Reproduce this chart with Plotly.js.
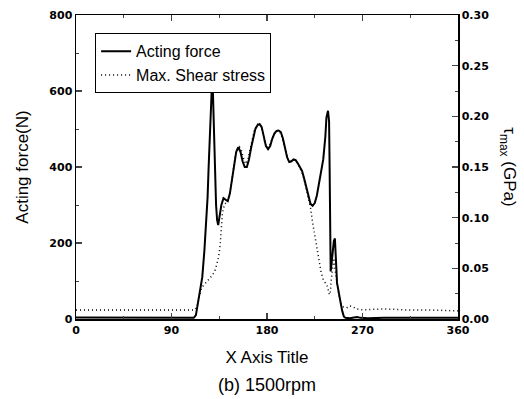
<!DOCTYPE html>
<html><head><meta charset="utf-8">
<script src="https://cdn.plot.ly/plotly-3.0.1.min.js"></script>
<style>html,body{margin:0;padding:0;background:#fff}#chart{width:524px;height:399px}</style>
</head><body><div id="chart"></div>
<script>
const forceAngle = [0,15,30,45,60,75,90,105,111,113,115,117,119,121,123,124,125,126,127,128,129,130,131,132,133,134,135,137,139,141,143,145,147,149,151,153,155,157,159,161,163,165,167,169,171,173,175,177,179,181,183,185,187,189,191,193,195,197,199,201,203,205,207,209,211,213,215,217,219,221,223,225,227,229,231,233,235,236,237.5,238.5,239,239.5,240,241,242,243,244,245,246,247,248,249.5,251,252.5,254,258,262,265,268,275,290,310,330,345,360];
const forceN = [4,4,3,4,3,3,4,3,3,10,40,80,110,180,270,320,400,480,570,610,600,480,380,300,260,247,265,300,318,315,310,330,370,410,440,452,440,415,400,400,420,450,480,500,510,513,505,480,455,447,455,475,488,495,496,492,475,450,425,413,415,420,418,410,400,390,370,345,320,303,298,305,325,355,385,420,480,530,548,520,400,250,125,150,180,205,212,160,95,80,60,41,20,6,3,2,4,5,3,2,3,3,3,3,3];
const stressAngle = [0,20,40,60,80,100,112,114,116,118,120,123,126,129,131,133,135,136,137,138,140,142,144,146,148,150,152,154,156,158,160,162,164,166,168,170,172,174,176,178,180,182,184,186,188,190,192,194,196,198,200,202,204,206,208,210,212,214,216,218,220,221,223,225,227,229,231,233,235,237,238.5,239.5,240.5,242,243,244,246,248,250,252,255,258,261,264,270,290,310,330,360];
const stressGPa = [0.009,0.009,0.009,0.009,0.009,0.009,0.009,0.012,0.022,0.030,0.033,0.036,0.040,0.044,0.048,0.055,0.065,0.075,0.095,0.105,0.113,0.115,0.118,0.130,0.145,0.160,0.168,0.170,0.166,0.158,0.153,0.157,0.167,0.178,0.186,0.191,0.193,0.191,0.184,0.174,0.169,0.170,0.176,0.181,0.185,0.186,0.185,0.180,0.172,0.163,0.157,0.155,0.157,0.157,0.155,0.151,0.147,0.142,0.133,0.124,0.115,0.110,0.095,0.083,0.068,0.055,0.046,0.039,0.035,0.032,0.025,0.024,0.038,0.055,0.060,0.050,0.035,0.022,0.015,0.012,0.011,0.013,0.012,0.010,0.009,0.010,0.009,0.009,0.008];
const seriesNames = ['Acting force','Max. Shear stress'];
const xTicks = [0,90,180,270,360];
const xTickText = ['0','90','180','270','360'];
const yTicks = [0,200,400,600,800];
const y2Ticks = [0,0.05,0.10,0.15,0.20,0.25,0.30];
const y2TickText = ['0.00','0.05','0.10','0.15','0.20','0.25','0.30'];

const tickFont = {family:'DejaVu Sans', size:11, color:'#000', weight:'bold'};
const data = [
  {x:forceAngle, y:forceN, name:seriesNames[0], type:'scatter', mode:'lines',
   line:{color:'#000', width:2}, yaxis:'y'},
  {x:stressAngle, y:stressGPa, name:seriesNames[1], type:'scatter', mode:'lines',
   line:{color:'#000', width:1.5, dash:'1px,3px'}, yaxis:'y2'}
];
const layout = {
  width:524, height:399,
  margin:{l:76, r:66, t:15, b:80},
  paper_bgcolor:'#fff', plot_bgcolor:'#fff',
  showlegend:true,
  legend:{x:0.05, y:0.94, xanchor:'left', yanchor:'top', bgcolor:'#fff',
    bordercolor:'#000', borderwidth:1, font:{family:'Liberation Sans, Arial', size:16, color:'#000'},
    tracegroupgap:0, itemwidth:30},
  xaxis:{range:[0,360], tickvals:xTicks, ticktext:xTickText, ticks:'inside', ticklen:6, tickwidth:1.5,
    showline:true, linecolor:'#000', linewidth:1.5, mirror:'ticks', showgrid:false, zeroline:false,
    tickfont:tickFont, minor:{dtick:45, tick0:0, ticks:'inside', ticklen:3, tickwidth:1},
    title:{text:'X Axis Title', font:{family:'Liberation Sans, Arial', size:17, color:'#000'}, standoff:15}},
  yaxis:{range:[0,800], tickvals:yTicks, ticks:'inside', ticklen:6, tickwidth:1.5,
    showline:true, linecolor:'#000', linewidth:1.5, showgrid:false, zeroline:false,
    tickfont:tickFont, minor:{dtick:100, tick0:0, ticks:'inside', ticklen:3, tickwidth:1},
    title:{text:'Acting force(N)', font:{family:'Liberation Sans, Arial', size:17, color:'#000'}, standoff:16}},
  yaxis2:{range:[0,0.30], overlaying:'y', side:'right', tickvals:y2Ticks, ticktext:y2TickText,
    ticks:'inside', ticklen:6, tickwidth:1.5, showline:true, linecolor:'#000', linewidth:1.5,
    showgrid:false, zeroline:false, tickfont:tickFont,
    minor:{dtick:0.025, tick0:0, ticks:'inside', ticklen:3, tickwidth:1}},
  annotations:[
    {text:'τ<sub>max</sub> (GPa)', xref:'paper', yref:'paper', x:1.13, y:0.5, textangle:90,
     showarrow:false, font:{family:'Liberation Sans, Arial', size:17, color:'#000'}, xanchor:'center', yanchor:'middle'},
    {text:'(b) 1500rpm', xref:'paper', yref:'paper', x:0.5, y:-0.218, yanchor:'middle', xanchor:'center',
     showarrow:false, font:{family:'Liberation Sans, Arial', size:18, color:'#000'}}
  ]
};
Plotly.newPlot('chart', data, layout, {staticPlot:true, displayModeBar:false});
</script></body></html>
